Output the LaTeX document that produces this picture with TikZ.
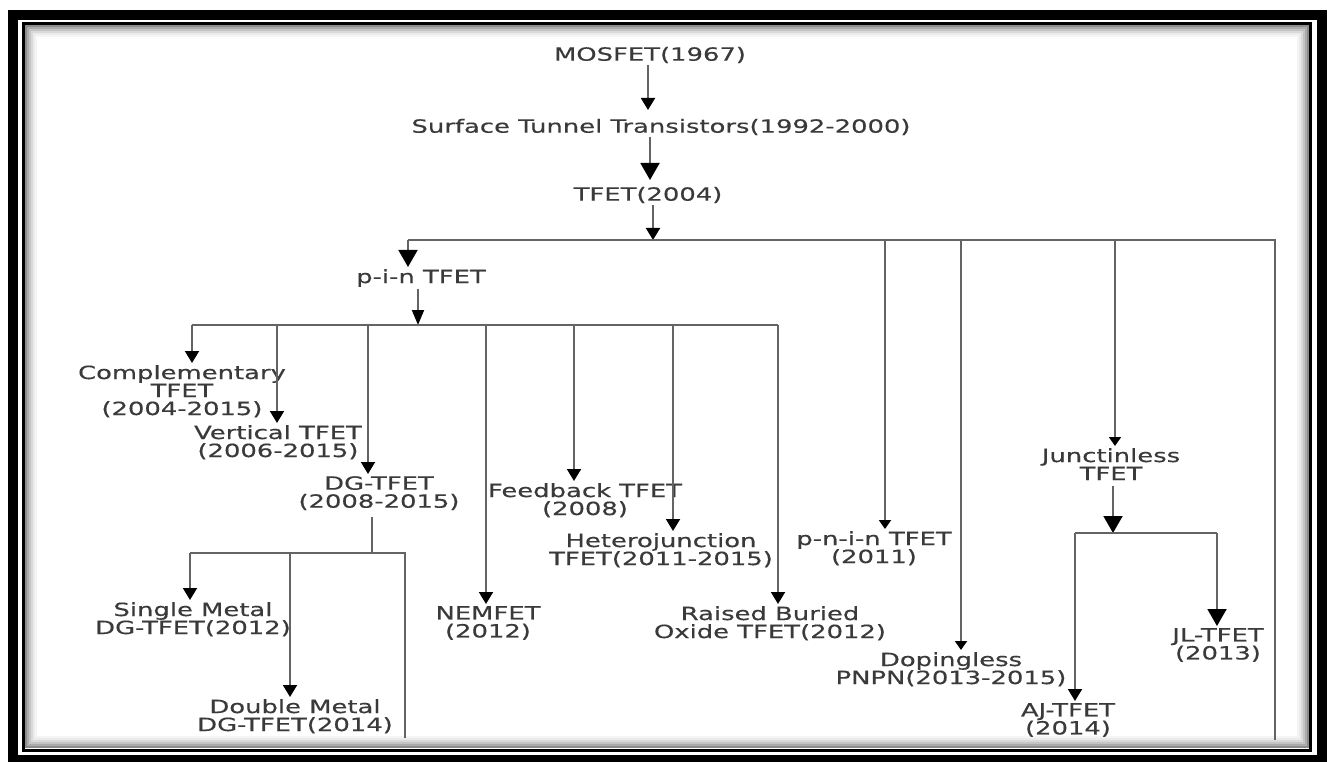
\documentclass[tikz,border=0pt]{standalone}
\usepackage{fontspec}
\newfontfamily\lblfont{DejaVu Sans}[FakeStretch=1.42,FakeBold=0.4]
\usetikzlibrary{arrows.meta,calc}
\definecolor{wiregray}{RGB}{100,100,100}
\definecolor{ink}{RGB}{58,58,58}

\begin{document}
\begin{tikzpicture}[x=1pt, y=-1pt,
    lbl/.style={align=center, inner sep=2pt, text=ink, font=\lblfont\fontsize{18.2}{18}\selectfont},
    link/.style={draw=wiregray, line width=1.9pt},
    arr/.style={link, -{Triangle[width=14pt,length=12pt,color=black]}},
    arrbig/.style={link, -{Triangle[width=19pt,length=17pt,color=black]}},
    arrslim/.style={link, -{Triangle[width=12pt,length=15pt,color=black]}},
    arrtiny/.style={link, -{Triangle[width=12pt,length=9pt,color=black]}}]

    % frame
    \useasboundingbox (0,0) rectangle (1331,762);
    \fill[white] (0,0) rectangle (1331,762);
    \draw[line width=10pt] (13,15) rectangle (1321.5,760);
    \draw[line width=3pt] (23.5,23.5) rectangle (1310.5,750);
    \foreach \i/\o in {1/0.45,2/0.33,3/0.23,4/0.15,5/0.08,6/0.04}
        \draw[black, opacity=\o, line width=2pt] (24+2*\i,24+2*\i) rectangle (1310-2*\i,749-2*\i);

    % top chain
    \node[lbl] (mosfet) at (650,55) {MOSFET(1967)};
    \node[lbl] (stt) at (661,127) {Surface Tunnel Transistors(1992-2000)};
    \node[lbl] (tfet) at (648,195) {TFET(2004)};

    \coordinate (m1) at (648,110);
    \coordinate (s1) at (650,180);
    \draw[arr] (m1 |- mosfet.south) -- (m1);
    \draw[arrbig] (s1 |- stt.south) -- (s1);

    % first level
    \coordinate (t0) at (653,240);
    \coordinate (t1) at (408,240);
    \coordinate (t2) at (885,240);
    \coordinate (t3) at (961,240);
    \coordinate (t4) at (1115,240);
    \coordinate (t5) at (1275,240);
    \coordinate (t5end) at (1275,740);

    \draw[arr] (t0 |- tfet.south) -- (t0);
    \draw[link] (t1) -- (t5) -- (t5end);

    \node[lbl, anchor=north] (pin) at (421,267) {p-i-n TFET};
    \node[lbl, anchor=north] (pnin) at (874,529) {p-n-i-n TFET\\(2011)};
    \node[lbl, anchor=north] (dpl) at (951,650) {Dopingless\\PNPN(2013-2015)};
    \node[lbl, anchor=north] (jl) at (1111,446) {Junctinless\\TFET};

    \draw[arrbig] (t1) -- (t1 |- pin.north);
    \draw[arrtiny] (t2) -- (t2 |- pnin.north);
    \draw[arrtiny] (t3) -- (t3 |- dpl.north);
    \draw[arrtiny] (t4) -- (t4 |- jl.north);

    % p-i-n branches
    \coordinate (p0) at (418,325);
    \coordinate (p1) at (192,325);
    \coordinate (p2) at (277,325);
    \coordinate (p3) at (368,325);
    \coordinate (p4) at (486,325);
    \coordinate (p5) at (574,325);
    \coordinate (p6) at (673,325);
    \coordinate (p7) at (778,325);

    \draw[arrslim] (p0 |- pin.south) -- (p0);
    \draw[link] (p1) -- (p7);

    \node[lbl, anchor=north] (comp) at (182,363) {Complementary\\TFET\\(2004-2015)};
    \node[lbl, anchor=north] (vert) at (278,423) {Vertical TFET\\(2006-2015)};
    \node[lbl, anchor=north] (dg) at (379,474) {DG-TFET\\(2008-2015)};
    \node[lbl, anchor=north] (nem) at (488,604) {NEMFET\\(2012)};
    \node[lbl, anchor=north] (feed) at (585,481) {Feedback TFET\\(2008)};
    \node[lbl, anchor=north] (het) at (661,531) {Heterojunction\\TFET(2011-2015)};
    \node[lbl, anchor=north] (rbo) at (770,604) {Raised Buried\\Oxide TFET(2012)};

    \draw[arr] (p1) -- (p1 |- comp.north);
    \draw[arr] (p2) -- (p2 |- vert.north);
    \draw[arr] (p3) -- (p3 |- dg.north);
    \draw[arr] (p4) -- (p4 |- nem.north);
    \draw[arr] (p5) -- (p5 |- feed.north);
    \draw[arr] (p6) -- (p6 |- het.north);
    \draw[arr] (p7) -- (p7 |- rbo.north);

    % DG-TFET branches
    \coordinate (d0) at (372,553);
    \coordinate (d1) at (190,553);
    \coordinate (d2) at (290,553);
    \coordinate (d3) at (405,553);
    \coordinate (d3end) at (405,738);

    \draw[link, shorten <=5pt] (d0 |- dg.south) -- (d0);
    \draw[link] (d1) -- (d3) -- (d3end);

    \node[lbl, anchor=north] (sm) at (193,600) {Single Metal\\DG-TFET(2012)};
    \node[lbl, anchor=north] (dm) at (295,697) {Double Metal\\DG-TFET(2014)};

    \draw[arr] (d1) -- (d1 |- sm.north);
    \draw[arr] (d2) -- (d2 |- dm.north);

    % Junctinless branches
    \coordinate (j0) at (1113,533);
    \coordinate (j1) at (1075,533);
    \coordinate (j2) at (1217,533);

    \draw[arrbig, shorten <=4pt] (j0 |- jl.south) -- (j0);
    \draw[link] (j1) -- (j2);

    \node[lbl, anchor=north] (jlt) at (1218,626) {JL-TFET\\(2013)};
    \node[lbl, anchor=north] (aj) at (1068,701) {AJ-TFET\\(2014)};

    \draw[arrbig] (j2) -- (j2 |- jlt.north);
    \draw[arr] (j1) -- (j1 |- aj.north);

\end{tikzpicture}
\end{document}
